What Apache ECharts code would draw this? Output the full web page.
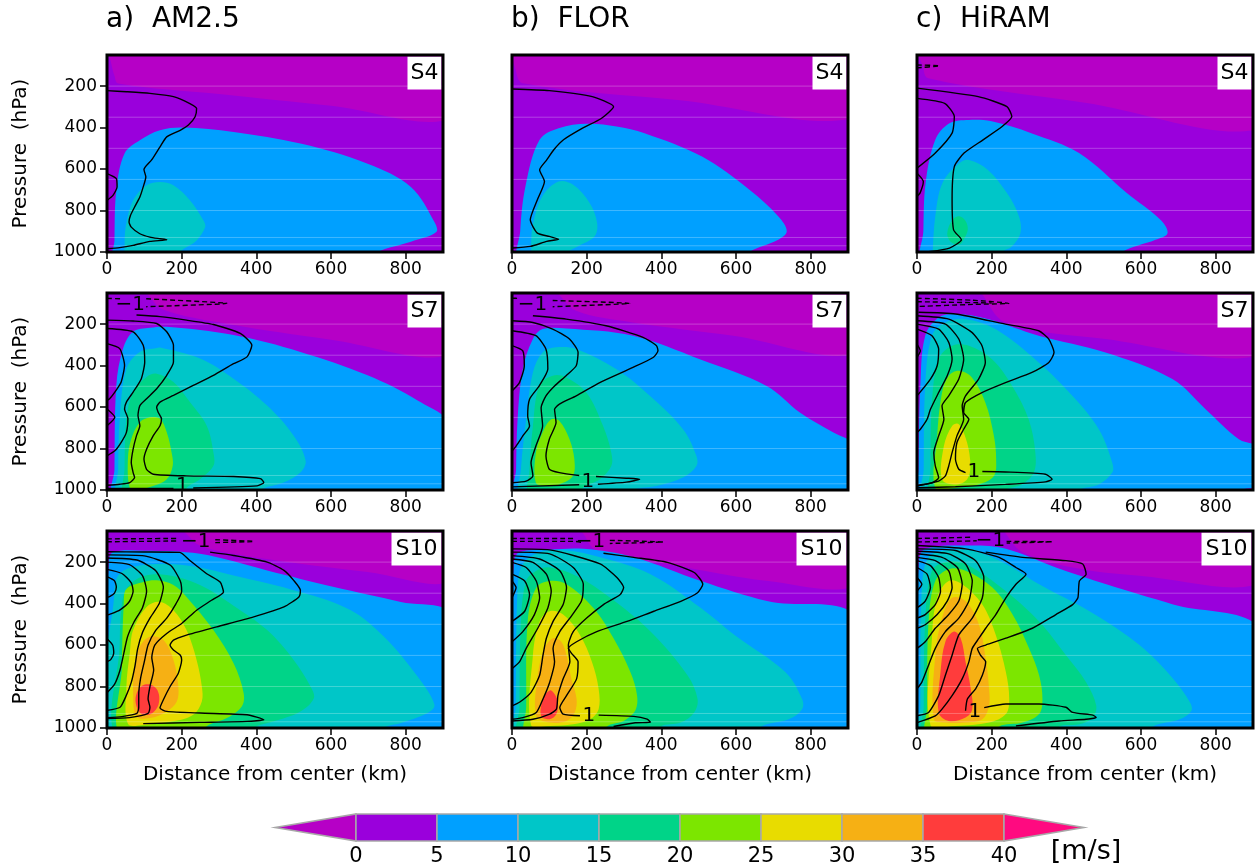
<!DOCTYPE html>
<html><head><meta charset="utf-8">
<script src="https://cdn.jsdelivr.net/npm/echarts@6/dist/echarts.min.js"></script>
<style>html,body{margin:0;padding:0;background:#fff}#c{width:1255px;height:867px}</style>
</head><body><div id="c"></div>
<script>
// ---------- axis / legend values ----------
const xTicks = [0, 200, 400, 600, 800];
const pTicks = [200, 400, 600, 800, 1000];
const cbLevels = [0, 5, 10, 15, 20, 25, 30, 35, 40];
const cbColors = ['#9a00dc', '#00a0ff', '#00c6c8', '#00d488', '#7ce600', '#e8dc00', '#f6b014', '#ff3c3c'];
const negColor = '#b600c6';
const overColor = '#ff0a80';
const modelLevels = [200, 350, 500, 650, 800, 930, 970];
const colTitles = ['a)  AM2.5', 'b)  FLOR', 'c)  HiRAM'];
const stageNames = ['S4', 'S7', 'S10'];

// ---------- filled wind-speed regions: [lower bound (m/s), boundary [km, hPa]] ----------
const fill_a4 = [
  [-5, [[7,40],[10,80],[20,150],[30,187],[300,238],[600,295],[920,355],[920,40]]],
  [5, [[20,1050],[20,944],[25,702],[47,525],[88,461],[142,413],[204,400],[339,421],[518,477],[698,574],[814,686],[877,855],[882,904],[814,950],[725,1000],[700,1050]]],
  [10, [[47,1050],[47,990],[50,880],[70,751],[106,678],[142,662],[178,678],[222,751],[258,847],[263,880],[240,944],[196,1000],[190,1050]]]
];
const fill_b4 = [
  [-5, [[8,40],[10,122],[29,186],[450,268],[920,352],[920,40]]],
  [5, [[22,1050],[22,900],[36,684],[74,459],[125,403],[202,382],[280,395],[355,427],[509,540],[636,700],[713,828],[736,900],[713,941],[636,1000],[620,1050]]],
  [10, [[51,1050],[51,1000],[55,877],[81,732],[125,660],[164,676],[208,764],[228,861],[221,925],[176,973],[151,1000],[145,1050]]]
];
const fill_c4 = [
  [-5, [[8,40],[15,100],[30,162],[450,280],[920,405],[920,40]]],
  [5, [[17,1050],[17,900],[23,668],[49,459],[87,379],[139,363],[200,370],[306,427],[434,523],[562,716],[652,845],[671,909],[639,941],[549,1000],[540,1050]]],
  [10, [[42,1050],[42,1000],[49,828],[68,668],[113,572],[139,556],[190,604],[241,716],[273,828],[277,909],[254,973],[228,1000],[220,1050]]],
  [15, [[81,909],[95,845],[113,828],[130,850],[136,893],[125,940],[113,965],[90,950]]]
];
const fill_a7 = [
  [-5, [[100,40],[110,60],[150,130],[324,200],[600,275],[920,345],[920,40]]],
  [5, [[20,1050],[20,900],[25,496],[43,318],[70,237],[115,218],[160,213],[339,253],[518,334],[698,447],[832,568],[920,690],[920,1050]]],
  [10, [[30,1050],[30,900],[34,657],[52,415],[88,334],[133,315],[142,313],[249,366],[339,463],[429,593],[500,738],[532,859],[518,916],[473,964],[411,1000],[400,1050]]],
  [15, [[47,1050],[47,900],[52,657],[70,528],[106,455],[133,439],[178,479],[222,576],[267,690],[285,819],[285,883],[249,948],[213,990],[200,1050]]],
  [20, [[61,990],[56,851],[65,754],[88,673],[115,649],[142,657],[160,722],[173,819],[176,883],[160,948],[115,985],[80,995]]]
];
const fill_b7 = [
  [-5, [[110,40],[119,45],[172,136],[324,192],[593,256],[920,340],[920,40]]],
  [5, [[11,1050],[11,900],[15,659],[29,417],[56,272],[82,224],[145,221],[324,256],[503,369],[682,498],[772,627],[861,723],[920,790],[920,1050]]],
  [10, [[24,1050],[24,900],[38,659],[56,433],[82,337],[118,312],[172,320],[279,417],[369,546],[458,707],[494,836],[494,884],[458,940],[387,981],[324,1000],[310,1050]]],
  [15, [[47,1050],[47,900],[56,691],[73,498],[109,449],[145,457],[199,530],[244,691],[266,820],[266,884],[235,949],[190,989],[180,1050]]],
  [20, [[64,965],[64,820],[82,723],[105,659],[127,667],[154,755],[167,852],[163,933],[127,973],[91,981]]]
];
const fill_c7 = [
  [-5, [[170,40],[174,55],[237,192],[505,272],[920,348],[920,40]]],
  [5, [[4,1050],[4,900],[9,498],[22,256],[58,168],[103,151],[192,176],[326,256],[505,337],[684,465],[773,610],[862,755],[920,800],[920,975],[870,1000],[860,1050]]],
  [10, [[18,1050],[18,900],[22,498],[40,256],[76,192],[130,176],[210,224],[326,385],[416,546],[487,707],[523,868],[523,916],[487,973],[433,1000],[420,1050]]],
  [15, [[36,1050],[36,900],[40,578],[58,369],[94,304],[139,304],[201,369],[255,498],[299,659],[317,820],[313,916],[281,973],[237,1000],[230,1050]]],
  [20, [[49,990],[54,739],[67,530],[85,449],[112,425],[147,457],[183,578],[206,739],[212,852],[206,932],[165,973],[103,989]]],
  [25, [[67,949],[72,788],[94,691],[112,683],[134,771],[143,884],[134,949],[103,973]]]
];
const fill_a10 = [
  [-5, [[200,40],[213,64],[249,120],[339,160],[518,208],[698,248],[920,292],[920,40]]],
  [5, [[5,1050],[5,200],[16,152],[100,145],[249,160],[429,240],[608,320],[787,392],[920,455],[920,1050]]],
  [10, [[20,1050],[20,336],[34,256],[88,216],[213,216],[339,264],[518,344],[653,432],[742,560],[832,752],[877,888],[859,928],[787,976],[742,1000],[730,1050]]],
  [15, [[34,1050],[34,600],[40,400],[55,320],[97,268],[160,262],[249,310],[339,410],[429,528],[500,672],[545,800],[554,856],[518,920],[447,968],[393,1000],[380,1050]]],
  [20, [[40,1050],[40,700],[45,400],[52,330],[100,295],[133,288],[178,310],[213,368],[285,528],[339,688],[366,832],[361,896],[321,952],[267,992],[250,1050]]],
  [25, [[56,980],[52,800],[61,640],[70,528],[106,416],[142,392],[178,432],[213,528],[240,672],[254,800],[254,872],[231,936],[178,968],[97,985]]],
  [30, [[79,944],[70,832],[74,704],[88,608],[115,560],[151,576],[178,672],[191,800],[187,872],[160,920],[115,952]]],
  [35, [[77,880],[80,830],[95,795],[115,790],[132,810],[140,850],[135,900],[115,935],[90,930]]]
];
const fill_b10 = [
  [-5, [[185,40],[191,63],[227,144],[416,209],[686,291],[920,310],[920,40]]],
  [5, [[5,1050],[5,200],[20,152],[100,140],[191,136],[326,176],[506,291],[686,389],[920,465],[920,1050]]],
  [10, [[10,1050],[10,900],[15,323],[29,209],[74,152],[146,144],[236,177],[371,258],[506,421],[596,551],[732,730],[777,860],[777,909],[741,958],[668,993],[660,1050]]],
  [15, [[20,1050],[20,900],[24,486],[38,291],[65,242],[101,226],[173,267],[263,372],[371,535],[470,746],[497,860],[488,925],[452,974],[398,993],[390,1050]]],
  [20, [[38,1050],[38,900],[42,486],[65,323],[101,291],[146,307],[218,421],[272,567],[317,730],[335,844],[330,917],[299,966],[254,993],[250,1050]]],
  [25, [[51,985],[56,649],[74,486],[101,437],[137,453],[182,551],[214,681],[232,811],[232,909],[209,958],[164,982],[101,990]]],
  [30, [[65,941],[69,746],[87,616],[110,567],[132,584],[146,649],[159,763],[173,860],[168,925],[146,966],[101,974]]],
  [35, [[78,941],[83,860],[101,819],[114,836],[123,876],[119,933],[101,958]]]
];
const fill_c10 = [
  [-5, [[235,40],[238,63],[283,152],[417,226],[596,266],[920,302],[920,40]]],
  [5, [[5,1050],[5,200],[22,136],[148,120],[238,136],[372,226],[507,307],[686,404],[920,525],[920,1050]]],
  [10, [[9,1050],[9,900],[13,323],[31,177],[76,144],[148,144],[238,209],[327,307],[462,437],[596,600],[686,762],[731,876],[735,917],[704,958],[632,993],[620,1050]]],
  [15, [[18,1050],[18,900],[22,486],[40,242],[76,201],[130,209],[238,340],[327,486],[399,649],[453,779],[480,892],[471,949],[435,982],[381,993],[370,1050]]],
  [20, [[27,1050],[27,900],[31,486],[49,291],[85,234],[130,242],[202,323],[256,453],[300,616],[327,746],[336,860],[327,933],[283,974],[220,993],[210,1050]]],
  [25, [[36,985],[40,567],[54,372],[85,291],[121,307],[175,405],[211,551],[238,730],[247,860],[238,933],[193,974],[103,990]]],
  [30, [[45,958],[49,649],[67,470],[94,372],[130,388],[166,502],[184,665],[193,811],[193,893],[175,958],[130,974],[76,974]]],
  [35, [[58,925],[63,730],[76,584],[99,535],[117,567],[130,681],[144,811],[148,909],[130,949],[85,966]]]
];

// ---------- black contour lines: [contour value, [km, hPa] points] ----------
const cont_a4 = [
  [1, [[0,222],[52,227],[115,235],[178,251],[222,284],[240,308],[236,348],[218,388],[196,413],[160,445],[142,493],[128,533],[119,557],[106,582],[99,602],[104,638],[97,686],[88,735],[74,783],[63,823],[59,855],[65,880],[88,912],[115,928],[142,936],[160,941],[115,949],[70,968],[34,979],[0,984]]],
  [1, [[0,622],[25,646],[27,686],[16,727],[0,751]]]
];
const cont_b4 = [
  [1, [[0,214],[100,222],[215,251],[272,299],[240,355],[189,403],[138,459],[112,507],[93,556],[74,604],[87,660],[68,748],[49,845],[68,909],[100,925],[125,938],[93,949],[49,973],[0,981]]]
];
const cont_c4 = [
  [-1, [[0,98],[60,102],[0,112]]],
  [1, [[0,210],[164,251],[241,299],[254,347],[228,395],[177,459],[126,523],[100,588],[94,748],[98,893],[119,941],[87,981],[36,997],[0,1000]]],
  [2, [[0,259],[74,283],[100,347],[94,427],[49,523],[0,596]]],
  [1, [[0,620],[17,660],[8,716],[0,732]]]
];
const cont_a7 = [
  [-1, [[0,76],[40,78]]],
  [-1, [[105,78],[321,100],[105,116]]],
  [1, [[79,156],[142,164],[213,181],[285,202],[357,245],[388,302],[375,358],[339,391],[285,447],[231,496],[178,544],[142,576],[133,601],[137,625],[146,657],[142,690],[124,738],[106,803],[99,851],[106,900],[124,924],[213,932],[339,935],[411,945],[420,964],[402,980],[231,990]]],
  [1, [[178,992],[0,993]]],
  [2, [[0,181],[70,185],[133,197],[160,237],[178,302],[178,383],[160,447],[133,512],[106,560],[88,593],[83,641],[88,690],[79,738],[70,803],[65,867],[70,916],[74,940],[61,964],[34,972],[0,977]]],
  [3, [[0,221],[70,237],[97,302],[101,383],[92,463],[70,528],[52,576],[47,609],[56,657],[52,722],[38,770],[21,811],[0,835]]],
  [4, [[0,294],[34,318],[47,399],[38,479],[21,528],[7,560],[0,568]]],
  [2, [[0,609],[21,649],[0,690]]]
];
const cont_b7 = [
  [-1, [[0,75],[20,76]]],
  [-1, [[109,86],[315,100],[109,116]]],
  [1, [[56,160],[145,176],[252,208],[351,264],[387,304],[391,329],[378,361],[324,409],[235,482],[172,546],[127,586],[114,611],[118,675],[100,755],[91,836],[100,900],[127,916],[180,930]]],
  [1, [[225,935],[306,943],[342,948],[306,962],[230,972]]],
  [1, [[180,975],[0,985]]],
  [2, [[0,184],[56,192],[109,224],[154,272],[177,337],[172,401],[145,449],[114,498],[91,546],[78,603],[82,691],[64,788],[51,868],[56,932],[38,957],[0,965]]],
  [3, [[0,232],[64,256],[91,321],[96,417],[73,498],[47,562],[42,643],[47,691],[29,739],[11,788],[0,812]]],
  [4, [[0,304],[29,329],[33,401],[20,482],[0,522]]]
];
const cont_c7 = [
  [-1, [[0,75],[150,85],[246,100],[150,105],[0,115]]],
  [-1, [[0,92],[200,98]]],
  [1, [[4,143],[103,151],[237,200],[326,232],[353,272],[367,337],[353,385],[308,433],[237,482],[174,530],[130,578],[125,626],[139,659],[125,707],[107,771],[103,852],[112,900],[130,916]]],
  [1, [[175,911],[237,913],[344,924],[362,948],[344,961],[237,973],[103,984],[3,989]]],
  [2, [[0,160],[85,176],[147,240],[174,304],[183,385],[165,465],[130,546],[121,594],[125,659],[107,739],[94,820],[85,884],[76,932],[58,957],[0,981]]],
  [3, [[0,184],[76,200],[112,272],[125,369],[112,465],[85,546],[67,594],[72,659],[58,739],[45,820],[49,884],[58,941],[40,965],[0,978]]],
  [4, [[0,200],[58,224],[85,288],[94,369],[81,449],[58,530],[36,611],[27,659],[9,707],[0,723]]],
  [5, [[0,224],[40,256],[58,321],[54,401],[36,465],[0,546]]],
  [6, [[0,296],[9,329],[0,361]]]
];
const cont_a10 = [
  [-1, [[0,88],[190,86]]],
  [-1, [[0,102],[190,98]]],
  [-1, [[290,92],[393,100],[290,106]]],
  [1, [[276,152],[339,168],[429,200],[474,240],[500,288],[518,336],[514,368],[474,416],[393,464],[294,512],[213,552],[178,576],[169,600],[178,624],[196,648],[200,672],[191,736],[169,800],[151,864],[142,904],[160,920],[249,928],[375,936],[420,960],[375,968],[249,973],[97,979]]],
  [2, [[0,150],[100,151],[195,153],[222,192],[267,256],[303,296],[312,344],[280,384],[240,432],[200,496],[160,544],[128,600],[120,660],[125,720],[115,800],[110,860],[115,900],[110,930],[60,950],[0,955]]],
  [3, [[0,165],[100,170],[170,215],[196,290],[200,340],[185,400],[160,470],[130,530],[110,600],[100,680],[90,760],[85,840],[85,900],[80,930],[40,945],[0,950]]],
  [4, [[0,180],[80,190],[130,240],[151,320],[140,400],[115,470],[95,540],[82,620],[75,700],[65,780],[50,850],[35,900],[0,915]]],
  [5, [[0,200],[60,212],[95,265],[106,340],[95,420],[72,490],[55,560],[45,640],[35,720],[20,790],[0,830]]],
  [6, [[0,235],[40,255],[65,300],[70,340],[60,390],[35,430],[10,450],[0,455]]],
  [7, [[0,270],[20,290],[25,320],[20,350],[8,365],[0,370]]],
  [2, [[0,570],[15,600],[18,640],[10,670],[0,680]]]
];
const cont_b10 = [
  [-1, [[0,86],[165,86]]],
  [-1, [[0,100],[165,100],[185,104]]],
  [-1, [[262,95],[405,103],[262,110]]],
  [1, [[245,157],[326,177],[416,201],[488,250],[511,307],[497,348],[452,389],[380,437],[308,486],[227,535],[173,584],[151,616],[160,641],[177,681],[173,763],[146,844],[128,901],[137,933],[182,941]]],
  [1, [[232,938],[326,944],[362,957],[371,972],[330,975],[272,993]]],
  [2, [[0,136],[101,141],[236,209],[281,274],[299,323],[290,356],[245,405],[200,470],[164,535],[151,600],[155,681],[137,763],[123,844],[119,909],[101,933],[56,958],[0,966]]],
  [3, [[0,152],[101,160],[164,226],[191,307],[186,388],[155,470],[128,535],[110,616],[114,681],[101,779],[83,860],[65,925],[29,950],[0,958]]],
  [4, [[0,169],[74,185],[128,242],[146,323],[137,405],[110,486],[92,567],[83,649],[74,746],[51,828],[20,876],[0,893]]],
  [5, [[0,185],[56,201],[92,258],[105,340],[96,421],[69,519],[38,616],[20,681],[0,714]]],
  [6, [[0,201],[38,226],[65,291],[74,372],[60,453],[29,535],[0,584]]],
  [7, [[0,258],[34,291],[47,356],[34,437],[0,486]]],
  [8, [[0,291],[11,323],[0,372]]]
];
const cont_c10 = [
  [-1, [[0,86],[100,82],[150,80]]],
  [-1, [[0,103],[100,100],[160,97]]],
  [-1, [[240,100],[363,102],[240,108]]],
  [1, [[184,152],[283,177],[399,193],[444,209],[453,258],[435,291],[431,372],[417,405],[372,453],[309,519],[238,567],[184,600],[162,616],[170,649],[184,681],[175,746],[157,811],[135,860],[130,917]]],
  [1, [[180,902],[238,884],[327,884],[399,900],[417,925],[471,938],[480,949],[453,958],[381,966],[265,990]]],
  [2, [[0,120],[130,136],[220,177],[265,226],[292,258],[265,307],[238,372],[211,453],[184,519],[166,567],[148,616],[139,681],[121,763],[94,844],[67,909],[49,941],[0,974]]],
  [3, [[0,136],[103,144],[157,193],[179,274],[175,372],[148,470],[112,551],[94,649],[76,746],[58,844],[31,925],[0,941]]],
  [4, [[0,148],[85,160],[130,209],[148,291],[139,388],[112,470],[76,535],[49,616],[31,697],[13,779],[0,811]]],
  [5, [[0,160],[67,177],[108,226],[121,307],[112,388],[85,453],[49,519],[22,584],[0,616]]],
  [6, [[0,177],[49,193],[85,242],[94,323],[81,388],[54,453],[22,502],[0,519]]],
  [7, [[0,193],[36,217],[58,274],[63,340],[49,405],[22,453],[0,470]]],
  [8, [[0,226],[27,258],[36,323],[22,388],[0,421]]],
  [9, [[0,274],[13,307],[0,340]]]
];

// ---------- contour labels: [text, km, hPa] ----------
const lab_a4 = [];
const lab_b4 = [];
const lab_c4 = [];
const lab_a7 = [['\u22121', 62, 108], ['1', 202, 982]];
const lab_b7 = [['\u22121', 55, 108], ['1', 203, 962]];
const lab_c7 = [['1', 152, 913]];
const lab_a10 = [['\u22121', 238, 100]];
const lab_b10 = [['\u22121', 210, 100], ['1', 206, 942]];
const lab_c10 = [['\u22121', 197, 98], ['1', 155, 920]];

// ---------- assemble ----------
const panels = [
  {fill: fill_a4, cont: cont_a4, lab: lab_a4}, {fill: fill_b4, cont: cont_b4, lab: lab_b4}, {fill: fill_c4, cont: cont_c4, lab: lab_c4},
  {fill: fill_a7, cont: cont_a7, lab: lab_a7}, {fill: fill_b7, cont: cont_b7, lab: lab_b7}, {fill: fill_c7, cont: cont_c7, lab: lab_c7},
  {fill: fill_a10, cont: cont_a10, lab: lab_a10}, {fill: fill_b10, cont: cont_b10, lab: lab_b10}, {fill: fill_c10, cont: cont_c10, lab: lab_c10}
];

const FONT = 'DejaVu Sans';
const gridLefts = [107, 512, 917];
const gridTops = [55, 293, 531];
const GW = 336, GH = 197;

function levelColor(lev) { return lev < 0 ? negColor : cbColors[Math.round(lev / 5)]; }
function plain(v) { return String(v); }

const grids = [], xAxes = [], yAxes = [], series = [];
panels.forEach((pn, i) => {
  const col = i % 3, row = Math.floor(i / 3);
  grids.push({left: gridLefts[col], top: gridTops[row], width: GW, height: GH,
    show: true, backgroundColor: cbColors[0], borderWidth: 0});
  xAxes.push({gridIndex: i, type: 'value', min: 0, max: 900, position: 'bottom',
    axisLine: {show: false}, splitLine: {show: false},
    axisTick: {show: true, length: 7, lineStyle: {color: '#000', width: 1.5}, customValues: xTicks},
    axisLabel: {show: true, customValues: xTicks, formatter: plain, color: '#000', fontSize: 17, fontFamily: FONT, margin: 9},
    name: row === 2 ? 'Distance from center (km)' : '', nameLocation: 'middle', nameGap: 37,
    nameTextStyle: {fontSize: 20, fontFamily: FONT, color: '#000'}});
  yAxes.push({gridIndex: i, type: 'value', min: 50, max: 1000, inverse: true,
    axisLine: {show: false}, splitLine: {show: false},
    axisTick: {show: col === 0, length: 7, lineStyle: {color: '#000', width: 1.5}, customValues: pTicks},
    axisLabel: {show: col === 0, customValues: pTicks, formatter: plain, color: '#000', fontSize: 17, fontFamily: FONT, margin: 10},
    name: col === 0 ? 'Pressure  (hPa)' : '', nameLocation: 'middle', nameRotate: 90, nameGap: 76,
    nameTextStyle: {fontSize: 20, fontFamily: FONT, color: '#000'}});

  // filled regions
  series.push({type: 'custom', xAxisIndex: i, yAxisIndex: i, clip: true, silent: true, z: 1,
    data: [[450, 500]],
    renderItem: function (params, api) {
      const children = pn.fill.map(function (f) {
        return {type: 'polygon', shape: {points: f[1].map(function (p) { return api.coord(p); }), smooth: 0.35},
          style: {fill: levelColor(f[0])}};
      });
      modelLevels.forEach(function (p) {
        const a = api.coord([0, p]), b = api.coord([900, p]);
        children.push({type: 'line', shape: {x1: a[0], y1: a[1], x2: b[0], y2: b[1]},
          style: {stroke: 'rgba(255,255,255,0.25)', lineWidth: 1}});
      });
      return {type: 'group', children: children};
    }});

  // contour lines
  pn.cont.forEach(function (c) {
    series.push({type: 'line', xAxisIndex: i, yAxisIndex: i, data: c[1], showSymbol: false, symbol: 'none',
      smooth: 0.2, silent: true, z: 3,
      lineStyle: {color: '#000', width: 1.4, type: c[0] < 0 ? [5, 3] : 'solid'}});
  });

  // labels, stage box and frame
  series.push({type: 'custom', xAxisIndex: i, yAxisIndex: i, clip: false, silent: true, z: 5,
    data: [[450, 500]],
    renderItem: function (params, api) {
      const tl = api.coord([0, 50]), br = api.coord([900, 1000]);
      const children = pn.lab.map(function (l) {
        const p = api.coord([l[1], l[2]]);
        return {type: 'text', x: p[0], y: p[1],
          style: {text: l[0], font: '20px ' + FONT, fill: '#000', align: 'center', verticalAlign: 'middle'}};
      });
      const name = stageNames[row];
      const bw = name.length > 2 ? 50 : 34;
      children.push({type: 'rect', shape: {x: br[0] - bw - 1.5, y: tl[1] + 1.5, width: bw, height: 33},
        style: {fill: '#fff'}});
      children.push({type: 'text', x: br[0] - 1.5 - bw / 2, y: tl[1] + 18,
        style: {text: name, font: '22px ' + FONT, fill: '#000', align: 'center', verticalAlign: 'middle'}});
      children.push({type: 'rect', shape: {x: tl[0], y: tl[1], width: br[0] - tl[0], height: br[1] - tl[1]},
        style: {fill: 'none', stroke: '#000', lineWidth: 3}});
      return {type: 'group', children: children};
    }});
});

// ---------- colour bar ----------
const cbX0 = 356, cbW = 81, cbY = 814, cbH = 27;
const graphic = [];
graphic.push({type: 'polygon', shape: {points: [[275, cbY + cbH / 2], [cbX0, cbY], [cbX0, cbY + cbH]]},
  style: {fill: negColor, stroke: '#a8a8a8', lineWidth: 1.5}});
cbColors.forEach(function (c, k) {
  graphic.push({type: 'rect', shape: {x: cbX0 + k * cbW, y: cbY, width: cbW, height: cbH},
    style: {fill: c, stroke: '#a8a8a8', lineWidth: 1.5}});
});
const cbEnd = cbX0 + cbColors.length * cbW;
graphic.push({type: 'polygon', shape: {points: [[cbEnd, cbY], [cbEnd + 80, cbY + cbH / 2], [cbEnd, cbY + cbH]]},
  style: {fill: overColor, stroke: '#a8a8a8', lineWidth: 1.5}});
cbLevels.forEach(function (v, k) {
  graphic.push({type: 'text', x: cbX0 + k * cbW, y: 857,
    style: {text: String(v), font: '21px ' + FONT, fill: '#000', align: 'center', verticalAlign: 'middle'}});
});
graphic.push({type: 'text', x: 1086, y: 852,
  style: {text: '[m/s]', font: '27px ' + FONT, fill: '#000', align: 'center', verticalAlign: 'middle'}});

const titles = colTitles.map(function (t, k) {
  return {text: t, left: gridLefts[k] - 1, top: 6, padding: 0,
    textStyle: {fontSize: 28, fontWeight: 'normal', fontFamily: FONT, color: '#000'}};
});

const chart = echarts.init(document.getElementById('c'), null, {renderer: 'canvas'});
chart.setOption({
  animation: false,
  backgroundColor: '#fff',
  title: titles,
  grid: grids, xAxis: xAxes, yAxis: yAxes, series: series, graphic: graphic
});
</script></body></html>
